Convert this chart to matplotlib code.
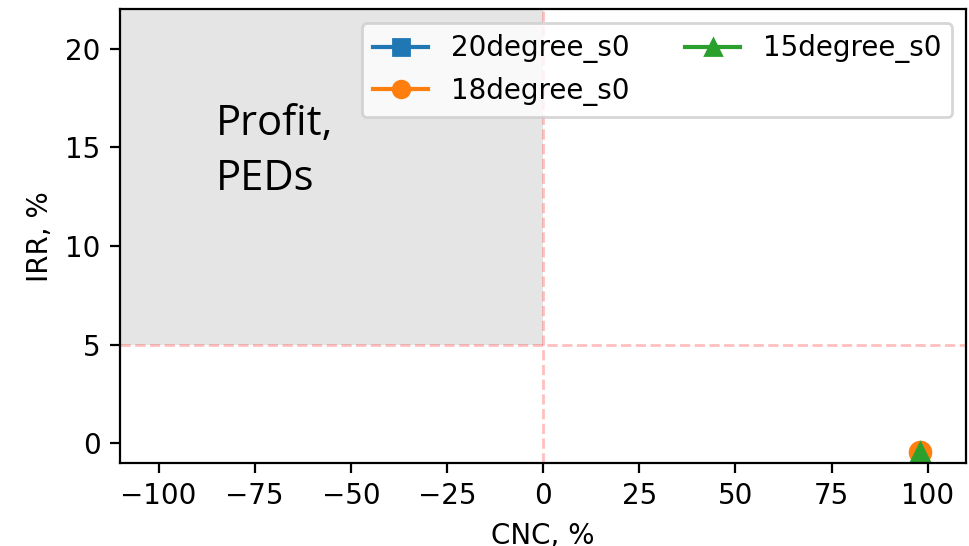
import matplotlib.pyplot as plt

# CNC vs IRR for each tilt case
labels = ['20degree_s0', '18degree_s0', '15degree_s0']
cnc = [[98.0], [98.0], [98.0]]
irr = [[-0.45], [-0.45], [-0.45]]
markers = ['s', 'o', '^']
sizes = [5, 7.5, 6.5]

irr_threshold = 5
cnc_threshold = 0

fig = plt.figure(figsize=(4.845, 2.73), dpi=200)
ax = fig.add_axes([0.124, 0.152, 0.873, 0.831])

# shaded profitable region
ax.fill_between([-110, cnc_threshold], irr_threshold, 22, color='gray', alpha=0.2, linewidth=0)
ax.axhline(irr_threshold, color='red', linestyle='--', alpha=0.25, linewidth=1)
ax.axvline(cnc_threshold, color='red', linestyle='--', alpha=0.25, linewidth=1)

for x, y, m, ms, lab in zip(cnc, irr, markers, sizes, labels):
    ax.plot(x, y, marker=m, markersize=ms, label=lab)

ax.text(-85, 17.25, 'Profit,\nPEDs', fontsize=15, family='Open Sans',
        va='top', ha='left', linespacing=1.4)

ax.set_xlim(-110, 110)
ax.set_ylim(-1, 22)
ax.set_xticks([-100, -75, -50, -25, 0, 25, 50, 75, 100])
ax.set_yticks([0, 5, 10, 15, 20])
ax.set_xlabel('CNC, %')
ax.set_ylabel('IRR, %')
leg = ax.legend(loc='upper right', ncol=2)
for h in leg.legend_handles:
    h.set_markersize(6)

fig.savefig('out.png', dpi=200)
